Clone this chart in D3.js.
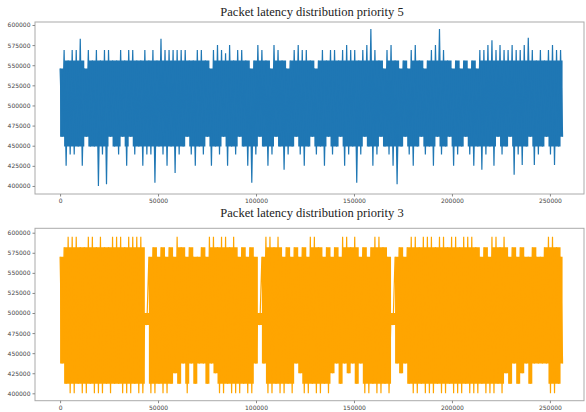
<!DOCTYPE html>
<html>
<head>
<meta charset="utf-8">
<script src="https://cdnjs.cloudflare.com/ajax/libs/d3/7.8.5/d3.min.js"></script>
<style>
  body { margin: 0; background: #fff; }
  .tick text { font-family: "DejaVu Sans", sans-serif; font-size: 6px; fill: #444; }
  .tick line { stroke: #888; }
  .title { font-family: "Liberation Serif", serif; font-size: 12.5px; fill: #222; }
</style>
</head>
<body>
<div id="chart"></div>
<script>
// Packet latency envelopes, one pair per bin of 2060 packets (values in thousands)
var binSize = 2060;

// priority 5 (blue) : top of each bin, bottom of each bin
var p5High = [546,569,556,569,569,583,546,569,556,569, 556,569,569,556,556,569,556,569,569,556,
              556,569,556,569,556,583,569,569,569,569, 569,569,556,556,569,569,556,546,569,575,
              569,565,575,556,569,569,556,546,556,575, 569,556,546,575,569,556,546,556,569,575,
              569,569,556,546,556,569,556,569,569,556, 569,575,569,569,556,569,575,595,569,556,
              546,569,575,556,546,556,546,569,575,556, 546,556,569,575,595,569,556,546,556,546,
              556,546,556,546,569,569,575,581,569,575, 569,569,575,569,569,575,584,569,556,569,
              556,569,575,569,569];
var p5Low  = [461,425,439,439,449,425,461,449,449,400, 439,402,461,449,439,461,425,461,439,449,
              425,439,439,404,449,439,425,449,416,439, 449,461,439,425,449,439,461,425,449,439,
              461,425,449,439,461,449,425,404,439,461, 449,425,439,461,449,420,439,449,461,439,
              425,449,461,439,449,425,461,439,449,461, 425,439,449,404,439,461,449,425,439,461,
              449,439,425,402,449,461,439,425,449,461, 439,449,425,461,439,449,461,425,439,449,
              461,439,425,449,420,439,449,425,461,439, 449,461,414,439,426,449,461,426,439,449,
              461,439,426,449,461];
// levels down to which the trace is dense enough to look solid
var p5Core = [449, 556];

// priority 3 (orange)
var p3High = [570,582,595,595,595,582,582,595,595,582, 595,582,582,595,595,595,582,595,595,595,
              595,500,570,582,570,582,570,582,570,595, 582,570,582,570,570,582,570,595,595,582,
              595,595,582,595,570,582,570,582,570,500, 570,595,595,582,595,570,582,570,582,570,
              582,570,595,595,582,570,582,570,582,570, 595,595,582,595,570,582,570,582,595,595,
              582,570,500,570,582,570,582,595,595,582, 595,595,595,582,595,595,582,595,595,582,
              595,595,595,582,570,582,570,595,595,582, 595,570,582,570,582,570,570,582,570,570,
              582,595,595,582,570];
var p3Low  = [437,412,400,400,412,400,400,412,400,400, 400,412,400,412,412,400,400,400,412,400,
              400,485,400,400,412,400,400,412,425,412, 437,400,437,412,437,437,412,437,425,400,
              400,412,400,400,400,412,400,400,437,485, 437,400,400,412,400,400,412,400,437,425,
              400,400,412,400,400,412,400,425,437,412, 437,425,437,412,437,400,400,412,400,400,
              412,400,485,437,425,437,412,400,400,412, 400,400,400,412,400,400,412,400,400,400,
              412,400,400,400,412,400,400,400,412,400, 425,412,437,412,425,437,412,437,437,437,
              437,400,400,412,437];
var p3Core = [412, 582];

var yTicks = [400000,425000,450000,475000,500000,525000,550000,575000,600000];
var xTicks = [0,50000,100000,150000,200000,250000];

var panels = [
  {title: "Packet latency distribution priority 5", high: p5High, low: p5Low, core: p5Core, color: "#1f77b4",
   top: 22, bottom: 194, yDomain: [390000, 603700], titleY: 16},
  {title: "Packet latency distribution priority 3", high: p3High, low: p3Low, core: p3Core, color: "#ffa500",
   top: 228.3, bottom: 400.7, yDomain: [390800, 605500], titleY: 217}
];

var W = 586, H = 412;
var left = 35, right = 584;

var svg = d3.select("#chart").append("svg")
  .attr("width", W)
  .attr("height", H);

var xScale = d3.scaleLinear().domain([-12800, 267400]).range([left, right]);

// turn the bin envelopes into the up/down trace of the raw line
function trace(high, low) {
  var pts = [];
  high.forEach(function(h, i) {
    pts.push({x: i * binSize, v: h * 1000});
    pts.push({x: i * binSize + binSize / 2, v: low[i] * 1000});
  });
  return pts;
}

// dense part of each bin: the bin range, capped at the core levels
function band(high, low, core) {
  return high.map(function(h, i) {
    return {x: i * binSize, hi: Math.min(h, core[1]) * 1000, lo: Math.max(low[i], core[0]) * 1000};
  });
}

panels.forEach(function(p, k) {
  var yScale = d3.scaleLinear().domain(p.yDomain).range([p.bottom, p.top]);
  var g = svg.append("g");

  g.append("defs").append("clipPath")
    .attr("id", "clip" + k)
    .append("rect")
    .attr("x", left).attr("y", p.top)
    .attr("width", right - left).attr("height", p.bottom - p.top);

  var area = d3.area()
    .curve(d3.curveStepAfter)
    .x(function(d) { return xScale(d.x); })
    .y0(function(d) { return yScale(d.lo); })
    .y1(function(d) { return yScale(d.hi); });

  var line = d3.line()
    .x(function(d) { return xScale(d.x); })
    .y(function(d) { return yScale(d.v); });

  var b = band(p.high, p.low, p.core);
  b.push({x: p.high.length * binSize - binSize / 2, hi: b[b.length - 1].hi, lo: b[b.length - 1].lo});

  g.append("path")
    .attr("clip-path", "url(#clip" + k + ")")
    .attr("d", area(b))
    .attr("fill", p.color);

  g.append("path")
    .attr("clip-path", "url(#clip" + k + ")")
    .attr("d", line(trace(p.high, p.low)))
    .attr("fill", "none")
    .attr("stroke", p.color)
    .attr("stroke-width", 1.2);

  // frame
  g.append("rect")
    .attr("x", left).attr("y", p.top)
    .attr("width", right - left).attr("height", p.bottom - p.top)
    .attr("fill", "none")
    .attr("stroke", "#aaa")
    .attr("stroke-width", 1);

  g.append("g")
    .attr("transform", "translate(" + left + ",0)")
    .call(d3.axisLeft(yScale).tickValues(yTicks).tickFormat(d3.format("d")).tickSize(2.5).tickPadding(2))
    .call(function(a) { a.select(".domain").remove(); });

  g.append("g")
    .attr("transform", "translate(0," + p.bottom + ")")
    .call(d3.axisBottom(xScale).tickValues(xTicks).tickFormat(d3.format("d")).tickSize(2.5).tickPadding(2.5))
    .call(function(a) { a.select(".domain").remove(); });

  g.append("text")
    .attr("class", "title")
    .attr("x", (left + 589) / 2)
    .attr("y", p.titleY)
    .attr("text-anchor", "middle")
    .text(p.title);
});
</script>
</body>
</html>
